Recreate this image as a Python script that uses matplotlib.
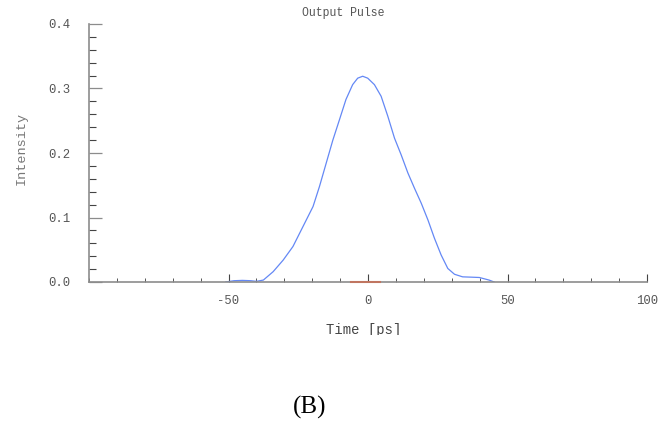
import numpy as np
import matplotlib
matplotlib.use('Agg')
import matplotlib.pyplot as plt
from matplotlib.ticker import MultipleLocator, FixedLocator
from matplotlib.transforms import Bbox

# data
time_ps = [-51, -48, -45, -42, -40, -37.5, -34, -30.4, -26.9, -23.3, -19.7,
           -17.4, -15, -12.6, -10.2, -7.9, -5.5, -3.7, -1.9, -0.1, 2.3, 4.7,
           7.1, 9.5, 11.9, 14.3, 16.7, 19.1, 21.5, 23.8, 26.2, 28.6, 31, 33.9,
           37, 39.9, 43.4, 45.2]
intensity = [0.000, 0.002, 0.0025, 0.002, 0.001, 0.003, 0.016, 0.034, 0.055,
             0.086, 0.117, 0.148, 0.184, 0.220, 0.252, 0.283, 0.306, 0.316,
             0.319, 0.316, 0.306, 0.288, 0.257, 0.223, 0.197, 0.169, 0.145,
             0.122, 0.096, 0.068, 0.042, 0.021, 0.012, 0.008, 0.0075, 0.007,
             0.003, 0.000]
input_t = [-6, 4.2]
input_i = [0.0, 0.0]
xticks = [-50, 0, 50, 100]
xlabels = ['-50', '0', '50', '100']

mono = 'Liberation Mono'

fig = plt.figure(figsize=(6.71, 4.24), dpi=100)
ax = fig.add_axes([89 / 671, 1 - 282 / 424, (647 - 89) / 671, (282 - 24) / 424])

ax.plot(time_ps, intensity, color='#6488f5', lw=0.9)
ax.plot(input_t, input_i, color='#c07560', lw=1.5, clip_on=False, zorder=4)

ax.set_xlim(-100, 100)
ax.set_ylim(0, 0.4)
ax.xaxis.set_major_locator(FixedLocator(xticks))
ax.set_xticklabels(xlabels)
ax.xaxis.set_minor_locator(MultipleLocator(10))
ax.yaxis.set_major_locator(MultipleLocator(0.1))
ax.yaxis.set_minor_locator(MultipleLocator(0.02))
ax.yaxis.set_major_formatter(matplotlib.ticker.FormatStrFormatter('%.1f'))

for s in ['top', 'right']:
    ax.spines[s].set_visible(False)
for s in ['left', 'bottom']:
    ax.spines[s].set_color('#8c8c8c')
    ax.spines[s].set_linewidth(1.2)

ax.tick_params(axis='x', which='major', direction='in', length=5.5, width=0.8,
               color='#444444', pad=9, labelsize=8.8, labelcolor='#555555')
ax.tick_params(axis='x', which='minor', direction='in', length=3, width=0.7,
               color='#555555')
ax.tick_params(axis='y', which='major', direction='in', length=9.5, width=0.9,
               color='#8c8c8c', pad=13.5, labelsize=8.8, labelcolor='#555555')
ax.tick_params(axis='y', which='minor', direction='in', length=5, width=0.8,
               color='#444444')
for lab in ax.get_xticklabels() + ax.get_yticklabels():
    lab.set_family(mono)

fig.text(343 / 671, 1 - 13 / 424, 'Output Pulse', family=mono, fontsize=8.3,
         color='#555555', ha='center', va='center')
fig.text(22 / 671, 1 - 148 / 424, 'Intensity', family=mono, fontsize=9.7,
         color='#777777', ha='center', va='center', rotation=90)
xl = fig.text(364 / 671, 1 - 330 / 424, 'Time [ps]', family=mono, fontsize=10,
              color='#444444', ha='center', va='center')
xl.set_clip_box(Bbox([[0, 424 - 335], [671, 424]]))
xl.set_clip_on(True)

fig.text(310 / 671, 1 - 407 / 424, '(B)', family='Liberation Serif', fontsize=18,
         color='black', ha='center', va='center')

fig.savefig('out.png', dpi=100)
